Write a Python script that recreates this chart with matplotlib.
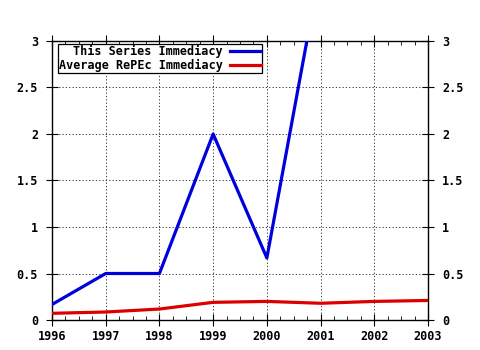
import numpy as np
import matplotlib
matplotlib.use('Agg')
import matplotlib.pyplot as plt
from matplotlib.ticker import MultipleLocator

# immediacy index by year
years_series = [1996, 1997, 1998, 1999, 2000, 2001]
series_imm   = [0.167, 0.5, 0.5, 2.0, 0.667, 3.8]

years_repec  = [1996, 1997, 1998, 1999, 2000, 2001, 2002, 2003]
repec_imm    = [0.072, 0.086, 0.118, 0.19, 0.2, 0.18, 0.2, 0.21]

xticks  = [1996, 1997, 1998, 1999, 2000, 2001, 2002, 2003]
yticks  = [0, 0.5, 1, 1.5, 2, 2.5, 3]
ylabels = ['0', '0.5', '1', '1.5', '2', '2.5', '3']

plt.rcParams['font.family'] = 'DejaVu Sans Mono'
plt.rcParams['font.weight'] = 'bold'
plt.rcParams['font.size']   = 8.5

fig = plt.figure(figsize=(4.8, 3.5), dpi=100)
ax  = fig.add_axes([0.1083, 0.0857, 0.7834, 0.7972])

ax.plot(years_series, series_imm, color='#0000dd', linewidth=2.3, label='This Series Immediacy', zorder=3)
ax.plot(years_repec, repec_imm, color='#dd0000', linewidth=2.3, label='Average RePEc Immediacy', zorder=3)

ax.set_xlim(1996, 2003)
ax.set_ylim(0, 3)
ax.set_xticks(xticks)
ax.set_xticklabels([str(x) for x in xticks], fontweight='bold')
ax.set_yticks(yticks)
ax.set_yticklabels(ylabels, fontweight='bold')
ax.xaxis.set_minor_locator(MultipleLocator(0.25))

ax.tick_params(axis='both', which='major', direction='inout', length=8, width=0.8, colors='black', pad=3)
ax.tick_params(axis='x', which='minor', direction='in', length=3, width=0.6, top=True, bottom=True)
ax.tick_params(axis='x', which='major', top=True)
ax.tick_params(axis='y', which='major', left=True, right=True, labelright=True, pad=6)

for sp in ax.spines.values():
    sp.set_linewidth(1.0)
    sp.set_color('black')

ax.grid(which='major', linestyle=(0, (1.5, 2.5)), color='black', linewidth=0.6, alpha=0.9, zorder=0)

leg = ax.legend(loc='upper left', bbox_to_anchor=(0.016, 0.989), markerfirst=False,
                fancybox=False, framealpha=1, edgecolor='black', handlelength=2.6,
                borderpad=0.1, labelspacing=0.05, handletextpad=0.6, borderaxespad=0.0,
                prop={'family': 'DejaVu Sans Mono', 'weight': 'bold', 'size': 8.5})
leg.get_frame().set_linewidth(0.9)

fig.savefig('out.png', dpi=100)
